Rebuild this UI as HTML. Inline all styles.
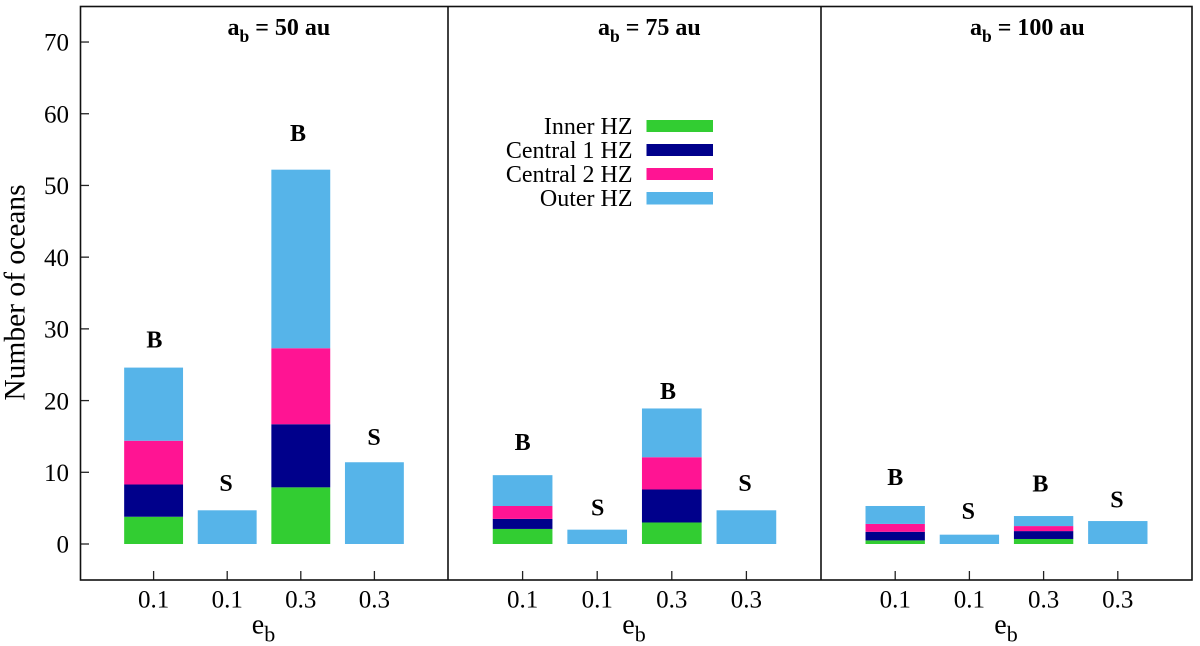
<!DOCTYPE html>
<html lang="en">
<head>
<meta charset="utf-8">
<title>Number of oceans by binary eccentricity</title>
<style>
html,body{margin:0;padding:0;background:#fff;width:1200px;height:646px;overflow:hidden}
svg{display:block}
text{font-family:"Liberation Serif","DejaVu Serif",serif;fill:#000}
</style>
</head>
<body>
<svg id="chart" xmlns="http://www.w3.org/2000/svg" width="1200" height="646" viewBox="0 0 1200 646">
  <g id="bars"></g>
  <g id="axes"></g>
  <rect x="80.5" y="6.5" width="1111.5" height="573.5" fill="none" stroke="#111" stroke-width="1.6"/>
  <line x1="448" y1="6" x2="448" y2="580" stroke="#111" stroke-width="1.6"/>
  <line x1="821" y1="6" x2="821" y2="580" stroke="#111" stroke-width="1.6"/>
  <text transform="translate(24.5,292.5) rotate(-90)" text-anchor="middle" font-size="29.5">Number of oceans</text>
  <g font-size="24" text-anchor="end">
    <text x="632.5" y="134">Inner HZ</text>
    <rect x="646.5" y="120" width="66.5" height="12" fill="#32cd32"/>
    <text x="632.5" y="158">Central 1 HZ</text>
    <rect x="646.5" y="144" width="66.5" height="12" fill="#00008b"/>
    <text x="632.5" y="182">Central 2 HZ</text>
    <rect x="646.5" y="168" width="66.5" height="12" fill="#ff1493"/>
    <text x="632.5" y="206">Outer HZ</text>
    <rect x="646.5" y="192" width="66.5" height="12.5" fill="#56b4e9"/>
  </g>
</svg>
<script>
// Data
const panelDistances = [50, 75, 100];
const categories = ["0.1", "0.1", "0.3", "0.3"];
const barTypes = ["B", "S", "B", "S"];
const yTicks = [0, 10, 20, 30, 40, 50, 60, 70];
// Segment heights, four bars per panel
const innerHZ = [3.8, 0, 7.9, 0, 2.1, 0, 3.0, 0, 0.5, 0, 0.7, 0];
const central1HZ = [4.5, 0, 8.8, 0, 1.4, 0, 4.6, 0, 1.2, 0, 1.1, 0];
const central2HZ = [6.1, 0, 10.6, 0, 1.8, 0, 4.5, 0, 1.1, 0, 0.7, 0];
const outerHZ = [10.2, 4.7, 24.9, 11.4, 4.3, 2.0, 6.8, 4.7, 2.5, 1.3, 1.4, 3.2];
// Height of each B / S annotation baseline, in axis units
const labelHeights = [27.4, 7.4, 56.2, 13.8, 13.1, 3.95, 20.2, 7.4, 8.2, 3.5, 7.35, 5.06];
// Horizontal shift of each annotation, in category units
const labelShifts = [0.01, -0.016, -0.038, -0.005, 0, 0.007, -0.05, -0.018, 0, -0.015, -0.044, -0.011];

// Axis geometry
const plot = { left: 80, div1: 448, div2: 821, right: 1192, bottom: 580, zeroY: 544, pxPerUnit: 7.171 };
const barWidth = 0.8;
const seriesColors = { inner: "#32cd32", c1: "#00008b", c2: "#ff1493", outer: "#56b4e9" };

function yScale(v) {
  return plot.zeroY - v * plot.pxPerUnit;
}
function panelBounds(p) {
  if (p === 0) return [plot.left, plot.div1];
  if (p === 1) return [plot.div1, plot.div2];
  return [plot.div2, plot.right];
}
// Category axis in each panel runs from -1 to 4
function xScale(p, c) {
  const b = panelBounds(p);
  return b[0] + (c + 1) * (b[1] - b[0]) / 5;
}

const NS = "http://www.w3.org/2000/svg";
const barsGroup = document.getElementById("bars");
const axesGroup = document.getElementById("axes");

function make(tag, attrs, parent, content) {
  const node = document.createElementNS(NS, tag);
  for (const k in attrs) node.setAttribute(k, attrs[k]);
  if (content !== undefined) node.textContent = content;
  parent.appendChild(node);
  return node;
}

// Y axis ticks and labels
yTicks.forEach(function (t) {
  const y = yScale(t);
  const tick = make("line", { x1: plot.left, x2: plot.left + 9, y1: y, y2: y, stroke: "#222", "stroke-width": 1.3 }, axesGroup);
  
  
  const label = make("text", { x: 69, y: y + 8.7, "text-anchor": "end", "font-size": 25 }, axesGroup, String(t));
  
  
});

const stackSeries = [
  { name: "inner", values: innerHZ },
  { name: "c1", values: central1HZ },
  { name: "c2", values: central2HZ },
  { name: "outer", values: outerHZ }
];

panelDistances.forEach(function (dist, p) {
  const bounds = panelBounds(p);
  const mid = (bounds[0] + bounds[1]) / 2;

  // Panel title
  const title = make("text", { x: mid - 36.5, y: 35, "text-anchor": "start", "font-size": 24, "font-weight": "bold" }, axesGroup);
  
  
  make("tspan", {}, title, "a");
  make("tspan", { dy: 7, "font-size": 17.5 }, title, "b");
  make("tspan", { dy: -7 }, title, " = " + dist + " au");

  // X axis title
  const xTitle = make("text", { x: mid - 0.5, y: 633.5, "text-anchor": "middle", "font-size": 28 }, axesGroup);
  
  
  make("tspan", {}, xTitle, "e");
  make("tspan", { dy: 8, "font-size": 22 }, xTitle, "b");

  categories.forEach(function (cat, c) {
    const idx = p * categories.length + c;
    const x = xScale(p, c);
    const unit = xScale(p, 1) - xScale(p, 0);
    const w = unit * barWidth;

    // Stacked bar
    let base = 0;
    stackSeries.forEach(function (s) {
      const v = s.values[idx];
      if (v > 0) {
        const seg = make("rect", { x: x - w / 2, y: yScale(base + v), width: w, height: yScale(base) - yScale(base + v), fill: seriesColors[s.name] }, barsGroup);
        
        
        base += v;
      }
    });

    // B / S annotation
    const note = make("text", { x: xScale(p, c + labelShifts[idx]), y: yScale(labelHeights[idx]), "text-anchor": "middle", "font-size": 24, "font-weight": "bold" }, axesGroup, barTypes[c]);
    
    

    // X tick and label
    const tick = make("line", { x1: x, x2: x, y1: plot.bottom, y2: plot.bottom - 9, stroke: "#222", "stroke-width": 1.3 }, axesGroup);
    
    
    const tickLabel = make("text", { x: x, y: 607.3, "text-anchor": "middle", "font-size": 25 }, axesGroup, cat);
    
    
  });
});
</script>
</body>
</html>
